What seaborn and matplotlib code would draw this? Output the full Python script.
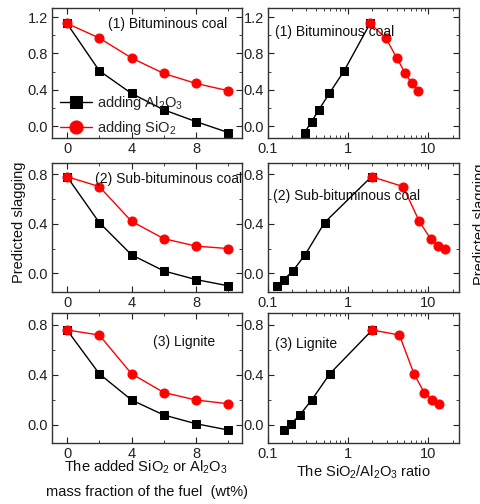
import numpy as np
import pandas as pd
import matplotlib
matplotlib.use("Agg")
import matplotlib.pyplot as plt
from matplotlib.ticker import MultipleLocator, FixedLocator, FixedFormatter, LogLocator, NullFormatter
import seaborn as sns

sns.set_style("ticks")
plt.rcParams['font.family'] = ['Liberation Sans', 'DejaVu Sans']
plt.rcParams['mathtext.default'] = 'regular'

# ---- data ----
mass = [0, 2, 4, 6, 8, 10]
coal_labels = ["(1) Bituminous coal", "(2) Sub-bituminous coal", "(3) Lignite"]

al_add = [
    [1.13, 0.61, 0.36, 0.18, 0.05, -0.07],
    [0.78, 0.41, 0.15, 0.02, -0.05, -0.10],
    [0.76, 0.41, 0.20, 0.08, 0.01, -0.04],
]
si_add = [
    [1.13, 0.97, 0.75, 0.58, 0.47, 0.39],
    [0.78, 0.70, 0.42, 0.28, 0.22, 0.20],
    [0.76, 0.72, 0.41, 0.26, 0.20, 0.17],
]
# SiO2/Al2O3 ratio for each addition step (same order as mass)
ratio_al = [
    [1.87, 0.89, 0.58, 0.43, 0.349, 0.286],
    [1.95, 0.507, 0.29, 0.204, 0.158, 0.129],
    [1.99, 0.59, 0.35, 0.249, 0.194, 0.158],
]
ratio_si = [
    [1.87, 2.94, 4.03, 5.14, 6.22, 7.38],
    [1.95, 4.82, 7.67, 10.6, 13.3, 16.1],
    [1.99, 4.34, 6.59, 8.84, 11.1, 13.5],
]

ylims = [(-0.13, 1.30), (-0.15, 0.89), (-0.144, 0.896)]
ymajor = [0.4, 0.4, 0.4]

W, H = 481, 504
fig = plt.figure(figsize=(W / 100, H / 100), dpi=100)

rows_px = [(8, 138), (163, 292), (313, 443)]
left_px = (52, 242)
right_px = (268, 459)

def make_ax(xp, yp):
    return fig.add_axes([xp[0] / W, 1 - yp[1] / H, (xp[1] - xp[0]) / W, (yp[1] - yp[0]) / H])

def style_ax(ax):
    ax.tick_params(which='both', direction='in', top=True, right=True, labelsize=10.5,
                   colors='#222222', pad=3)
    ax.tick_params(which='major', length=4, width=0.8)
    ax.tick_params(which='minor', length=2, width=0.6)
    for s in ax.spines.values():
        s.set_linewidth(1.0)
        s.set_color('#333333')
    ax.set_xlabel('')
    ax.set_ylabel('')

left_text_pos = [(0.295, 0.877), (0.226, 0.876), (0.53, 0.777)]
right_text_pos = [(0.037, 0.815), (0.026, 0.744), (0.037, 0.76)]

for i in range(3):
    # left: mass fraction
    axl = make_ax(left_px, rows_px[i])
    dfa = pd.DataFrame({'x': mass, 'y': al_add[i]})
    dfs = pd.DataFrame({'x': mass, 'y': si_add[i]})
    sns.lineplot(data=dfa, x='x', y='y', ax=axl, color='black', marker='s', markersize=5.5,
                 markeredgecolor='black', linewidth=1.0, label='adding Al$_2$O$_3$' if i == 0 else None)
    sns.lineplot(data=dfs, x='x', y='y', ax=axl, color='#ff0000', marker='o', markersize=6.5,
                 markeredgecolor='#ff0000', linewidth=1.0, label='adding SiO$_2$' if i == 0 else None)
    axl.set_xlim(-0.93, 10.85)
    axl.set_ylim(*ylims[i])
    axl.xaxis.set_major_locator(MultipleLocator(4))
    axl.xaxis.set_minor_locator(MultipleLocator(2))
    axl.yaxis.set_major_locator(MultipleLocator(ymajor[i]))
    axl.yaxis.set_minor_locator(MultipleLocator(0.2))
    style_ax(axl)
    axl.text(*left_text_pos[i], coal_labels[i], transform=axl.transAxes, fontsize=10,
             ha='left', va='center', color='#111111')
    if i == 0:
        leg = axl.legend(loc='lower left', bbox_to_anchor=(-0.01, -0.07), frameon=False,
                         fontsize=10.5, handlelength=2.2, handletextpad=0.3,
                         labelspacing=0.45, markerscale=1.45, borderpad=0.2)
    else:
        if axl.get_legend() is not None:
            axl.get_legend().remove()

    # right: ratio (log)
    axr = make_ax(right_px, rows_px[i])
    dfra = pd.DataFrame({'x': ratio_al[i], 'y': al_add[i]})
    dfrs = pd.DataFrame({'x': ratio_si[i], 'y': si_add[i]})
    sns.lineplot(data=dfra, x='x', y='y', ax=axr, color='black', marker='s', markersize=5.5,
                 markeredgecolor='black', linewidth=1.0, sort=True)
    sns.lineplot(data=dfrs, x='x', y='y', ax=axr, color='#ff0000', marker='o', markersize=6.5,
                 markeredgecolor='#ff0000', linewidth=1.0, sort=True)
    axr.set_xscale('log')
    axr.set_xlim(0.1, 24)
    axr.set_ylim(*ylims[i])
    axr.xaxis.set_major_locator(FixedLocator([0.1, 1, 10]))
    axr.xaxis.set_major_formatter(FixedFormatter(['0.1', '1', '10']))
    axr.xaxis.set_minor_locator(LogLocator(base=10, subs=np.arange(2, 10)))
    axr.xaxis.set_minor_formatter(NullFormatter())
    axr.yaxis.set_major_locator(MultipleLocator(ymajor[i]))
    axr.yaxis.set_minor_locator(MultipleLocator(0.2))
    style_ax(axr)
    if axr.get_legend() is not None:
        axr.get_legend().remove()
    axr.text(*right_text_pos[i], coal_labels[i], transform=axr.transAxes, fontsize=10,
             ha='left', va='center', color='#111111')

# axis labels
fig.text(12 / W, 1 - 222 / H, 'Predicted slagging', rotation=90, ha='left', va='center',
         fontsize=10.5, color='#111111')
fig.text(473 / W, 1 - 224 / H, 'Predicted slagging', rotation=90, ha='left', va='center',
         fontsize=10.5, color='#111111')
fig.text(146 / W, 1 - 467 / H, 'The added SiO$_2$ or Al$_2$O$_3$', ha='center', va='center',
         fontsize=10.5, color='#111111')
fig.text(147 / W, 1 - 492 / H, 'mass fraction of the fuel  (wt%)', ha='center', va='center',
         fontsize=10.5, color='#111111')
fig.text(363 / W, 1 - 472 / H, 'The SiO$_2$/Al$_2$O$_3$ ratio', ha='center', va='center',
         fontsize=10.5, color='#111111')

fig.savefig('out.png', dpi=100)
